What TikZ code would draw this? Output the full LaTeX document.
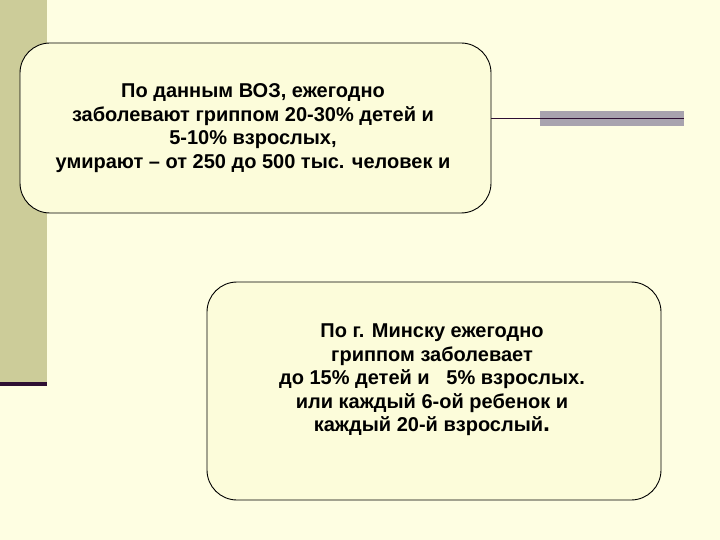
\documentclass[tikz,border=0pt]{standalone}
\usepackage{fontspec}
\setmainfont{Liberation Sans}
\begin{document}
\begin{tikzpicture}[x=1pt,y=-1pt,
 box/.style={draw=black,line width=0.9pt,rounded corners=30pt,fill=boxfill},
 txt/.style={align=center,font=\bfseries\fontsize{20}{23.5}\selectfont,text=black}]
\definecolor{bg}{HTML}{FEFEE2}
\definecolor{boxfill}{HTML}{FCFCDA}
\definecolor{olive}{HTML}{CCCC99}
\definecolor{purp}{HTML}{2E0F33}
\definecolor{grayb}{HTML}{A8A3AE}
\fill[bg] (0,0) rectangle (720,540);
\useasboundingbox (0,0) rectangle (720,540);
\fill[olive] (0,0) rectangle (47,382);
\fill[purp] (0,382) rectangle (47,386);
\fill[grayb] (540,111) rectangle (684,126);
\draw[purp,line width=1.6pt] (490,118.5) -- (684,118.5);
\draw[box] (20,43) rectangle (491,213);
\node[txt] (t1) at (253,128) {По данным ВОЗ, ежегодно\\заболевают гриппом 20-30\% детей и\\5-10\% взрослых,\\умирают -- от 250 до 500 тыс. человек и};
\draw[box] (207,282) rectangle (661,500);
\node[txt] (t2) at (432,380) {По г. Минску ежегодно\\гриппом заболевает\\до 15\% детей и~~ 5\% взрослых.\\или каждый 6-ой ребенок и\\каждый 20-й взрослый{\fontsize{25}{23.5}\selectfont .}};
\end{tikzpicture}
\end{document}
